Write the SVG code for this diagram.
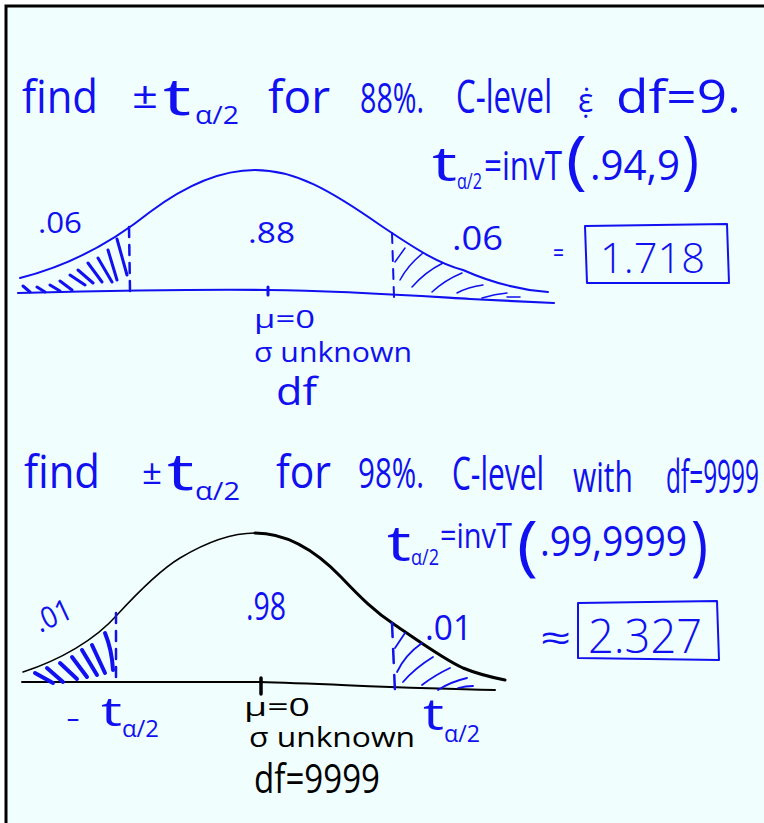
<svg xmlns="http://www.w3.org/2000/svg" width="764" height="823" viewBox="0 0 764 823">
<style>
  .t { font-family: "Open Sans", "DejaVu Sans", sans-serif; font-weight: 400; }
  .l { font-weight: 300; }
  .b { fill: #1010f0; }
  .k { fill: #000000; }
  .sb { fill: none; stroke: #1010f0; stroke-linecap: round; stroke-linejoin: round; }
  .sk { fill: none; stroke: #000000; stroke-linecap: round; stroke-linejoin: round; }
  .dash { stroke-dasharray: 10 8; }
</style>
<rect x="0" y="0" width="764" height="823" fill="#ffffff"/>
<rect x="6" y="6" width="770" height="830" fill="#f0fffd" stroke="#000000" stroke-width="3"/>

<g id="problem1">
  <text class="t b"><tspan x="22" y="113" font-size="46" textLength="76" lengthAdjust="spacingAndGlyphs">find</tspan><tspan x="132" y="108" font-size="36" textLength="26" lengthAdjust="spacingAndGlyphs">±</tspan><tspan x="163" y="115" font-size="52" textLength="28" lengthAdjust="spacingAndGlyphs">t</tspan><tspan x="195" y="124" font-size="26" textLength="44" lengthAdjust="spacingAndGlyphs">α/2</tspan><tspan x="268" y="113" font-size="46" textLength="62" lengthAdjust="spacingAndGlyphs">for</tspan><tspan x="360" y="113" font-size="42" textLength="64" lengthAdjust="spacingAndGlyphs">88%.</tspan><tspan x="456" y="113" font-size="46" textLength="96" lengthAdjust="spacingAndGlyphs">C-level</tspan><tspan x="578" y="112" font-size="32">ε̣̇</tspan><tspan x="616" y="113" font-size="46" textLength="125" lengthAdjust="spacingAndGlyphs">df=9.</tspan></text>

  <text class="t b"><tspan x="432" y="181" font-size="48" textLength="25" lengthAdjust="spacingAndGlyphs">t</tspan><tspan x="457" y="189" font-size="22" textLength="25" lengthAdjust="spacingAndGlyphs">α/2</tspan><tspan x="484" y="180" font-size="40" textLength="78" lengthAdjust="spacingAndGlyphs">=invT</tspan><tspan x="566" y="182" font-size="64" textLength="21" lengthAdjust="spacingAndGlyphs">(</tspan><tspan x="590" y="180" font-size="42" textLength="90" lengthAdjust="spacingAndGlyphs">.94,9</tspan><tspan x="682" y="182" font-size="64" textLength="17" lengthAdjust="spacingAndGlyphs">)</tspan></text>
</g>

<g id="curve1">
  <path class="sb" stroke-width="2" d="M20,278 C60,268 105,248 150,212 C190,182 225,170 255,170 C295,170 330,190 380,225 C420,252 440,264 463,270 C490,282 520,290 548,292"/>
  <path class="sb" stroke-width="2.2" d="M18,293 C100,291 200,289 268,290 C350,291 420,296 470,299 L554,303"/>
  <path class="sb" stroke-width="3" d="M268,287 L268,295"/>
  <path class="sb dash" stroke-width="2.5" d="M129,227 L130,291"/>
  <path class="sb dash" stroke-width="2" d="M392,233 L394,297"/>
  <path class="sb" stroke-width="3" d="M23,286 L30,292 M37,287 L45,292 M50,285 L60,291 M60,281 L72,290 M70,275 L85,285 M78,270 L93,283 M88,263 L102,282 M98,258 L112,282 M108,250 L117,280 M117,239 L127,275"/>
  <path class="sb" stroke-width="1.5" d="M395,262 L405,248 M400,280 Q408,265 423,253 M412,287 Q425,272 443,263 M432,292 Q445,280 462,273 M457,293 Q468,287 483,285 M482,298 Q495,294 507,293 M507,297 L520,297"/>
  <text class="t b" x="38" y="233" font-size="30" textLength="44" lengthAdjust="spacingAndGlyphs">.06</text>
  <text class="t b" x="248" y="243" font-size="30" textLength="47" lengthAdjust="spacingAndGlyphs">.88</text>
  <text class="t b" x="452" y="250" font-size="32" textLength="51" lengthAdjust="spacingAndGlyphs">.06</text>
  <text class="t b" x="553" y="262" font-size="26" textLength="11" lengthAdjust="spacingAndGlyphs">=</text>
  <path class="sb" stroke-width="2" d="M585,226 L727,224 L729,283 L587,283 Z"/>
  <text class="t b l" x="600" y="273" font-size="42" textLength="105" lengthAdjust="spacingAndGlyphs">1.718</text>
  <text class="t b" x="254" y="328" font-size="26" textLength="61" lengthAdjust="spacingAndGlyphs">μ=0</text>
  <text class="t b" x="254" y="362" font-size="28" textLength="158" lengthAdjust="spacingAndGlyphs">σ unknown</text>
  <text class="t b" x="276" y="405" font-size="38" textLength="41" lengthAdjust="spacingAndGlyphs">df</text>
</g>

<g id="problem2">
  <text class="t b"><tspan x="24" y="488" font-size="46" textLength="76" lengthAdjust="spacingAndGlyphs">find</tspan><tspan x="142" y="484" font-size="34" textLength="20" lengthAdjust="spacingAndGlyphs">±</tspan><tspan x="167" y="490" font-size="52" textLength="27" lengthAdjust="spacingAndGlyphs">t</tspan><tspan x="195" y="500" font-size="26" textLength="45" lengthAdjust="spacingAndGlyphs">α/2</tspan><tspan x="276" y="488" font-size="46" textLength="55" lengthAdjust="spacingAndGlyphs">for</tspan><tspan x="358" y="488" font-size="42" textLength="66" lengthAdjust="spacingAndGlyphs">98%.</tspan><tspan x="452" y="490" font-size="46" textLength="92" lengthAdjust="spacingAndGlyphs">C-level</tspan><tspan x="573" y="492" font-size="42" textLength="60" lengthAdjust="spacingAndGlyphs">with</tspan><tspan x="666" y="493" font-size="46" textLength="93" lengthAdjust="spacingAndGlyphs">df=9999</tspan></text>

  <text class="t b"><tspan x="387" y="561" font-size="50" textLength="24" lengthAdjust="spacingAndGlyphs">t</tspan><tspan x="411" y="565" font-size="22" textLength="28" lengthAdjust="spacingAndGlyphs">α/2</tspan><tspan x="440" y="548" font-size="34" textLength="72" lengthAdjust="spacingAndGlyphs">=invT</tspan><tspan x="517" y="568" font-size="66" textLength="21" lengthAdjust="spacingAndGlyphs">(</tspan><tspan x="540" y="556" font-size="42" textLength="147" lengthAdjust="spacingAndGlyphs">.99,9999</tspan><tspan x="691" y="568" font-size="66" textLength="17" lengthAdjust="spacingAndGlyphs">)</tspan></text>
</g>

<g id="curve2">
  <path class="sk" stroke-width="1.5" d="M23,672 C60,660 95,640 117,615 C140,590 160,570 180,558 C210,540 235,533 255,533"/>
  <path class="sk" stroke-width="3" d="M255,533 C285,533 315,550 341,577 C360,597 375,612 395,625 C420,642 445,660 463,668 C480,675 495,678 505,680"/>
  <path class="sk" stroke-width="2" d="M22,682 L259,682 C330,684 400,688 495,690"/>
  <path class="sk" stroke-width="3.5" d="M261,678 L261,694"/>
  <path class="sb dash" stroke-width="2.5" d="M116,613 L116,682"/>
  <path class="sb" stroke-width="2.5" stroke-dasharray="14 12" d="M392,623 L395,692"/>
  <path class="sb" stroke-width="4" d="M35,673 L53,683 M47,668 L63,682 M60,663 L77,679 M72,657 L87,677 M82,650 L97,675 M92,645 L105,673 M105,633 Q112,650 113,670"/>
  <path class="sb" stroke-width="1.8" d="M395,648 L405,633 M397,672 Q405,655 422,643 M403,682 Q415,668 433,657 M422,685 Q435,675 450,668 M438,690 Q450,682 467,678 M458,688 Q466,686 473,686"/>
  <text class="t b" x="40" y="633" font-size="30" textLength="38" lengthAdjust="spacingAndGlyphs" transform="rotate(-25 40 633)">.01</text>
  <text class="t b" x="246" y="620" font-size="38" textLength="40" lengthAdjust="spacingAndGlyphs">.98</text>
  <text class="t b" x="425" y="640" font-size="34" textLength="47" lengthAdjust="spacingAndGlyphs">.01</text>
  <text class="t b" x="540" y="651" font-size="36" textLength="31" lengthAdjust="spacingAndGlyphs">≈</text>
  <path class="sb" stroke-width="2" d="M578,603 L717,601 L719,660 L578,658 Z"/>
  <text class="t b l" x="588" y="653" font-size="48" textLength="114" lengthAdjust="spacingAndGlyphs">2.327</text>
  <text class="t b"><tspan x="66" y="728" font-size="30" textLength="14" lengthAdjust="spacingAndGlyphs">-</tspan><tspan x="101" y="726" font-size="40" textLength="21" lengthAdjust="spacingAndGlyphs">t</tspan><tspan x="122" y="737" font-size="24" textLength="37" lengthAdjust="spacingAndGlyphs">α/2</tspan></text>
  <text class="t k" x="244" y="716" font-size="26" textLength="66" lengthAdjust="spacingAndGlyphs">μ=0</text>
  <text class="t k" x="249" y="747" font-size="28" textLength="166" lengthAdjust="spacingAndGlyphs">σ unknown</text>
  <text class="t b"><tspan x="423" y="730" font-size="44" textLength="21" lengthAdjust="spacingAndGlyphs">t</tspan><tspan x="444" y="742" font-size="24" textLength="36" lengthAdjust="spacingAndGlyphs">α/2</tspan></text>
  <text class="t k" x="254" y="793" font-size="40" textLength="126" lengthAdjust="spacingAndGlyphs">df=9999</text>
</g>
</svg>
